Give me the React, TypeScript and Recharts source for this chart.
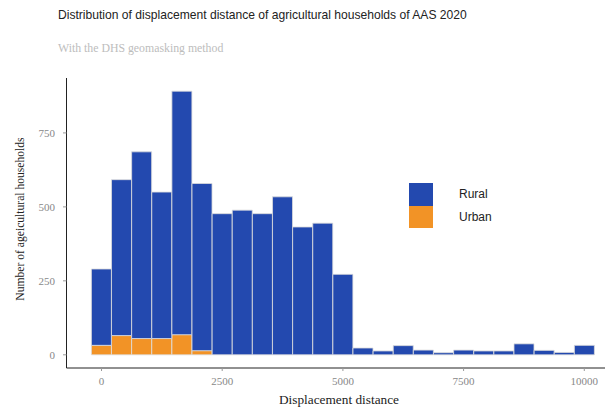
import { Bar, ComposedChart, Line, XAxis, YAxis } from 'recharts';

// bin centres of the histogram (bin width ~417)
const binCenters = [
  0, 417, 833, 1250, 1667, 2083, 2500, 2917, 3333, 3750, 4167, 4583, 5000,
  5417, 5833, 6250, 6667, 7083, 7500, 7917, 8333, 8750, 9167, 9583, 10000,
];
const urbanCounts = [32, 65, 55, 55, 68, 14, 0, 0, 0, 0, 0, 0, 0, 0, 0, 0, 0, 0, 0, 0, 0, 0, 0, 0, 0];
const ruralCounts = [
  258, 527, 631, 495, 823, 565, 477, 489, 477, 534, 432, 445, 272, 23, 13, 31,
  16, 7, 16, 13, 13, 37, 15, 8, 32,
];
const xTicks = [0, 2500, 5000, 7500, 10000];
const yTicks = [0, 250, 500, 750];

const BLUE = '#2349AF';
const ORANGE = '#F29326';

const data = binCenters.map((c, i) => ({
  center: c,
  urban: urbanCounts[i],
  rural: ruralCounts[i],
}));

const serif = '"Liberation Serif", "Times New Roman", serif';
const sans = '"Liberation Sans", Arial, sans-serif';

function LegendBox() {
  const items = [
    { label: 'Rural', color: BLUE },
    { label: 'Urban', color: ORANGE },
  ];
  return (
    <div style={{ position: 'absolute', left: 409, top: 183, display: 'flex', flexDirection: 'column' }}>
      {items.map(it => (
        <div key={it.label} style={{ display: 'flex', alignItems: 'center', height: 22.5 }}>
          <div style={{ width: 24, height: 22.5, background: it.color }} />
          <span style={{ marginLeft: 26, fontFamily: sans, fontSize: 12, color: '#222' }}>
            {it.label}
          </span>
        </div>
      ))}
    </div>
  );
}

export default function App() {
  return (
    <div style={{ position: 'fixed', left: 0, top: 0, width: 605, height: 408, background: '#fff' }}>
      <div style={{ position: 'absolute', left: 58, top: 8, fontFamily: sans, fontSize: 12.1, color: '#222', whiteSpace: 'nowrap' }}>
        Distribution of displacement distance of agricultural households of AAS 2020
      </div>
      <div style={{ position: 'absolute', left: 58, top: 41, fontFamily: serif, fontSize: 11.8, color: '#bdbdbd', whiteSpace: 'nowrap' }}>
        With the DHS geomasking method
      </div>
      <div
        style={{
          position: 'absolute',
          left: 20,
          top: 219,
          transform: 'translate(-50%, -50%) rotate(-90deg)',
          fontFamily: serif,
          fontSize: 11.6,
          color: '#222',
          whiteSpace: 'nowrap',
        }}
      >
        Number of ageicultural households
      </div>
      <div
        style={{
          position: 'absolute',
          left: 339,
          top: 400,
          transform: 'translate(-50%, -50%)',
          fontFamily: serif,
          fontSize: 13.3,
          color: '#222',
          whiteSpace: 'nowrap',
        }}
      >
        Displacement distance
      </div>
      <ComposedChart
        width={605}
        height={408}
        data={data}
        margin={{ top: 78, right: 0, bottom: 0, left: 0 }}
        barCategoryGap={0}
        barGap={0}
      >
        <XAxis
          xAxisId='bins'
          dataKey='center'
          type='category'
          hide
          height={0}
          padding={{ left: 24.9, right: 10.5 }}
        />
        <XAxis
          xAxisId='num'
          dataKey='center'
          type='number'
          domain={[-725, 10429]}
          ticks={xTicks}
          allowDataOverflow
          height={40}
          stroke='#222'
          tickSize={3}
          tickMargin={6}
          tickLine={{ stroke: '#999' }}
          tick={{ fill: '#888', fontSize: 11, fontFamily: serif }}
        />
        <YAxis
          domain={[-44.6, 935.6]}
          ticks={yTicks}
          allowDataOverflow
          width={66.5}
          stroke='#222'
          tickSize={3.5}
          tickMargin={8}
          tickLine={{ stroke: '#999' }}
          tick={{ fill: '#888', fontSize: 11, fontFamily: serif }}
        />
        <Bar
          xAxisId='bins'
          dataKey='urban'
          stackId='h'
          fill={ORANGE}
          stroke='#dcdcdc'
          strokeWidth={0.8}
          isAnimationActive={false}
        />
        <Bar
          xAxisId='bins'
          dataKey='rural'
          stackId='h'
          fill={BLUE}
          stroke='#dcdcdc'
          strokeWidth={0.8}
          isAnimationActive={false}
        />
        <Line
          xAxisId='num'
          dataKey='urban'
          stroke='none'
          dot={false}
          activeDot={false}
          legendType='none'
          isAnimationActive={false}
        />
      </ComposedChart>
      <LegendBox />
    </div>
  );
}
